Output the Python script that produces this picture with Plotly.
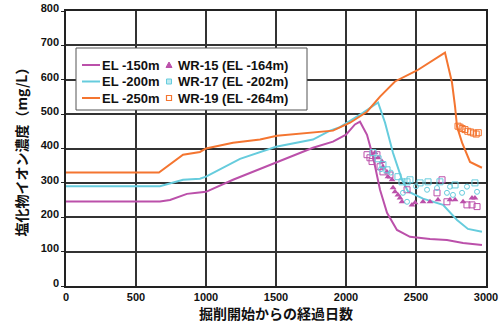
import plotly.graph_objects as go

# EL -150m
d150 = [0, 300, 671, 743, 864, 936, 1000, 1193, 1500, 1764, 1907, 2000, 2064, 2100, 2150, 2193, 2243, 2293, 2364, 2457, 2600, 2721, 2836, 2971]
v150 = [246, 246, 246, 250, 268, 271, 274, 309, 358, 402, 420, 440, 470, 478, 440, 376, 280, 213, 163, 143, 137, 134, 125, 119]
# EL -200m
d200 = [0, 300, 671, 836, 957, 1000, 1193, 1243, 1500, 1764, 1886, 1957, 2121, 2229, 2279, 2336, 2400, 2443, 2550, 2693, 2793, 2871, 2971]
v200 = [290, 290, 290, 309, 312, 318, 358, 370, 405, 426, 452, 462, 504, 534, 475, 387, 309, 275, 254, 236, 192, 166, 158]
# EL -250m
d250 = [0, 300, 664, 836, 957, 1000, 1193, 1386, 1507, 1907, 2029, 2150, 2243, 2350, 2507, 2707, 2757, 2779, 2793, 2829, 2886, 2971]
v250 = [330, 330, 330, 382, 390, 400, 417, 426, 437, 452, 475, 507, 551, 595, 627, 679, 592, 522, 464, 417, 361, 344]

# WR-15 (EL -164m)
d_wr15 = [2207, 2229, 2257, 2264, 2293, 2300, 2329, 2336, 2350, 2371, 2386, 2400, 2471, 2493, 2550, 2600, 2657, 2743, 2779, 2836, 2900, 2921]
v_wr15 = [388, 373, 362, 347, 332, 318, 309, 286, 274, 265, 256, 245, 236, 242, 245, 245, 251, 251, 251, 245, 256, 256]
d_wr15b = [2150, 2171, 2186, 2221, 2243, 2264, 2314, 2436, 2650, 2686, 2721, 2864, 2900, 2936]
v_wr15b = [382, 373, 362, 382, 347, 332, 323, 280, 271, 309, 245, 236, 236, 231]
# WR-17 (EL -202m)
d_wr17 = [2193, 2229, 2264, 2293, 2371, 2400, 2436, 2457, 2529, 2586, 2671, 2779, 2921]
v_wr17 = [388, 370, 353, 338, 318, 303, 303, 309, 300, 303, 303, 294, 300]
d_wr17b = [2250, 2320, 2407, 2436, 2500, 2579, 2650, 2721, 2743, 2764, 2829, 2864, 2936]
v_wr17b = [340, 330, 271, 245, 290, 280, 285, 271, 289, 265, 271, 289, 274]
# WR-19 (EL -264m)
d_wr19 = [2800, 2815, 2830, 2850, 2870, 2890, 2910, 2930, 2945]
v_wr19 = [465, 462, 458, 455, 450, 448, 445, 442, 446]

line_names = ["EL -150m", "EL -200m", "EL -250m"]
marker_names = ["WR-15 (EL -164m)", "WR-17 (EL -202m)", "WR-19 (EL -264m)"]

C_MAG = "#BB50AA"
C_CYN = "#66CCDD"
C_ORG = "#F47530"

fig = go.Figure()
fig.add_trace(go.Scatter(x=d150, y=v150, mode="lines", name=line_names[0], line=dict(color=C_MAG, width=2)))
fig.add_trace(go.Scatter(x=d200, y=v200, mode="lines", name=line_names[1], line=dict(color=C_CYN, width=2)))
fig.add_trace(go.Scatter(x=d250, y=v250, mode="lines", name=line_names[2], line=dict(color=C_ORG, width=2)))
fig.add_trace(go.Scatter(x=d_wr15b, y=v_wr15b, mode="markers", name=marker_names[0],
                         marker=dict(symbol="square-open", color=C_MAG, size=6, line=dict(width=1))))
fig.add_trace(go.Scatter(x=d_wr15, y=v_wr15, mode="markers", name=marker_names[0],
                         marker=dict(symbol="triangle-up", color=C_MAG, size=6)))
fig.add_trace(go.Scatter(x=d_wr17, y=v_wr17, mode="markers", name=marker_names[1],
                         marker=dict(symbol="square-open", color=C_CYN, size=6, line=dict(width=1))))
fig.add_trace(go.Scatter(x=d_wr17b, y=v_wr17b, mode="markers", name=marker_names[1],
                         marker=dict(symbol="circle-open", color=C_CYN, size=5, line=dict(width=1))))
fig.add_trace(go.Scatter(x=d_wr19, y=v_wr19, mode="markers", name=marker_names[2],
                         marker=dict(symbol="square-open", color=C_ORG, size=6, line=dict(width=1))))

FIG_W, FIG_H = 500, 327
L, R, T, B = 66, 14, 11, 41
PW, PH = FIG_W - L - R, FIG_H - T - B


def px(x):  # window pixel -> paper x
    return (x - L) / PW


def py(y):  # window pixel -> paper y
    return (FIG_H - B - y) / PH


shapes = []
annotations = []
shapes.append(dict(type="rect", xref="paper", yref="paper", x0=px(76), x1=px(307), y0=py(110), y1=py(48),
                   fillcolor="white", line=dict(color="#555555", width=1), layer="above"))
rows = [65, 81.5, 98]
colors = [C_MAG, C_CYN, C_ORG]
legfont = dict(family="Liberation Sans", size=13, color="#111111", weight="bold")
for i, yy in enumerate(rows):
    shapes.append(dict(type="line", xref="paper", yref="paper", x0=px(82), x1=px(100), y0=py(yy), y1=py(yy),
                       line=dict(color=colors[i], width=2), layer="above"))
    annotations.append(dict(xref="paper", yref="paper", x=px(101), y=py(yy), xanchor="left", yanchor="middle",
                            text=line_names[i], showarrow=False, font=legfont, borderpad=0))
    annotations.append(dict(xref="paper", yref="paper", x=px(177), y=py(yy), xanchor="left", yanchor="middle",
                            text=marker_names[i], showarrow=False, font=legfont, borderpad=0))
# legend marker glyphs
cx = 169
shapes.append(dict(type="path", xref="paper", yref="paper",
                   path=f"M {px(cx-3)} {py(rows[0]+2.5)} L {px(cx+3)} {py(rows[0]+2.5)} L {px(cx)} {py(rows[0]-3)} Z",
                   fillcolor=C_MAG, line=dict(color=C_MAG, width=1), layer="above"))
shapes.append(dict(type="rect", xref="paper", yref="paper", x0=px(cx-2.5), x1=px(cx+2.5), y0=py(rows[1]+2.5), y1=py(rows[1]-2.5),
                   fillcolor="#BEEAF0", line=dict(color=C_CYN, width=1), layer="above"))
shapes.append(dict(type="rect", xref="paper", yref="paper", x0=px(cx-2.5), x1=px(cx+2.5), y0=py(rows[2]+2.5), y1=py(rows[2]-2.5),
                   fillcolor="white", line=dict(color=C_ORG, width=1.2), layer="above"))

tickfont = dict(family="Liberation Sans", size=11, color="#111111", weight="bold")
titlefont = dict(family="Noto Sans CJK JP", size=14, color="#111111", weight="bold")

fig.update_layout(
    width=FIG_W, height=FIG_H,
    margin=dict(l=L, r=R, t=T, b=B),
    paper_bgcolor="white", plot_bgcolor="white",
    font=dict(family="Liberation Sans", color="#111111"),
    showlegend=False,
    hovermode=False,
    shapes=shapes,
    annotations=annotations,
    xaxis=dict(
        range=[0, 3000], dtick=500, showgrid=True, gridcolor="#333333", gridwidth=1.5,
        showline=True, linecolor="#222222", linewidth=1.5, mirror=True, automargin=False,
        zeroline=False, ticks="", tickfont=tickfont,
        title=dict(text="掘削開始からの経過日数", font=titlefont, standoff=7),
    ),
    yaxis=dict(
        range=[0, 800], dtick=100, showgrid=True, gridcolor="#333333", gridwidth=1.5,
        showline=True, linecolor="#222222", linewidth=1.5, mirror=True, automargin=False,
        zeroline=False, ticks="outside", ticklen=3, tickcolor="#222222",
        tickfont=tickfont, ticklabelshift=-3,
        title=dict(text="塩化物イオン濃度（mg/L）", font=titlefont, standoff=10),
    ),
)

# the page's default body margin would offset the figure; remove it
fig.write_html("out.html", config={"displayModeBar": False},
               post_script="document.body.style.margin='0';")
